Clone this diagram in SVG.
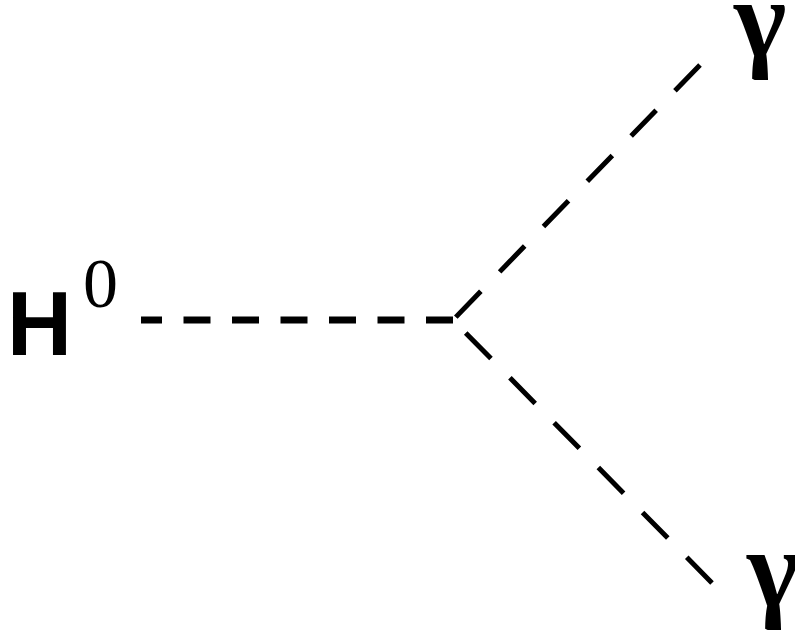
<svg xmlns="http://www.w3.org/2000/svg" width="795" height="638" viewBox="0 0 795 638">
<style>
.prop{fill:none;stroke:#000;stroke-linecap:butt}
.h{stroke-width:7;stroke-dasharray:27 21.5}
.d{stroke-width:5;stroke-dasharray:36 27}
.sans{font-family:"Liberation Sans",Arial,sans-serif;font-weight:bold;fill:#000}
.serif{font-family:"Liberation Serif","Times New Roman",serif;fill:#000}
.g{font-family:"Liberation Serif","Times New Roman",serif;font-weight:bold;fill:#000;font-size:112px}
</style>
<rect width="795" height="638" fill="#fff"/>
<g id="connectors">
<path class="prop h" d="M453,320 L141,320"/>
<path class="prop d" d="M700,65 L453,320"/>
<path class="prop d" d="M712,583 L453,320"/>
</g>
<g id="higgs">
<text class="sans" x="7" y="355" font-size="90">H</text>
<text class="serif" x="83" y="307" font-size="70">0</text>
</g>
<g id="photon1">
<text class="g" x="734" y="56">γ</text>
</g>
<g id="photon2">
<text class="g" x="747" y="606">γ</text>
</g>
</svg>
